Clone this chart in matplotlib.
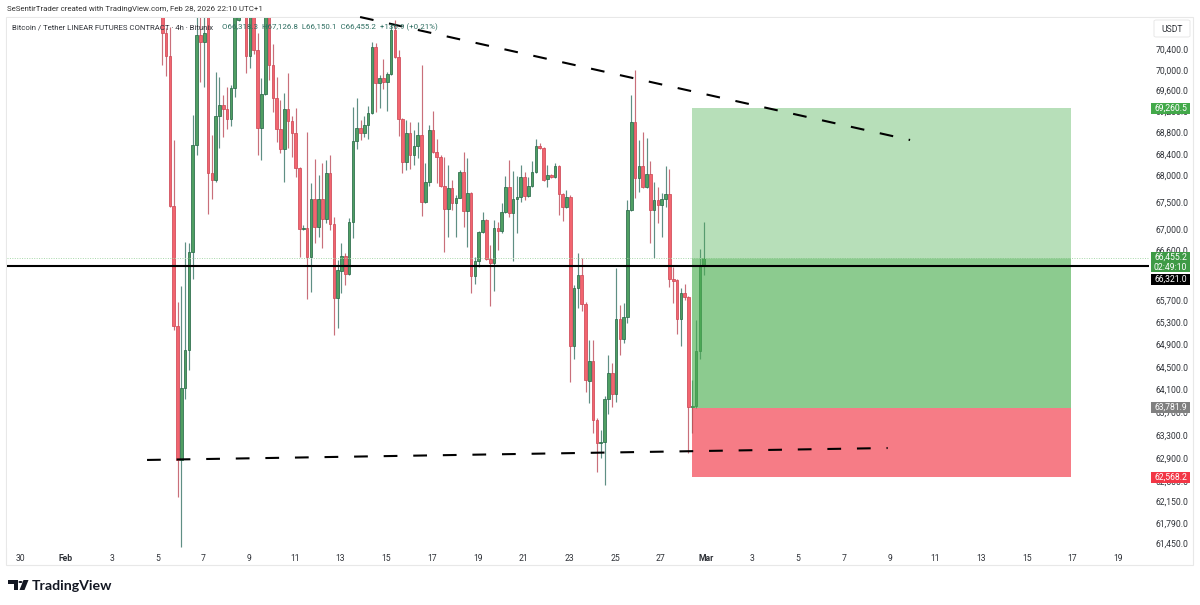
import matplotlib
matplotlib.use("Agg")
import matplotlib.pyplot as plt
import matplotlib.dates as mdates
import pandas as pd
from matplotlib.patches import Rectangle, Polygon, Circle, FancyBboxPatch
from matplotlib.ticker import FixedLocator, FixedFormatter, NullLocator

plt.rcParams["font.family"] = ["Roboto", "DejaVu Sans"]

# BTCUSDT perpetual, 4h bars, session offset UTC+1
opens = [71200, 70712, 70265, 67422, 65231, 62868, 64127, 64800, 66574, 68564,
         70673, 70537, 71100, 68039, 67908, 69115, 69324, 69248, 69058, 69648,
         70966, 71500, 71250, 70265, 71200, 70381, 68887, 69532, 71150, 70091,
         69455, 68868, 68488, 69248, 69020, 68792, 68132, 66997, 67015, 66483,
         67552, 67034, 67552, 67182, 68039, 67090, 65736, 66228, 66501, 66174,
         67126, 68640, 68887, 68792, 68944, 69172, 70439, 69744, 69840, 69763,
         69918, 70771, 70246, 69058, 68245, 68792, 68375, 68545, 68754, 67496,
         67871, 68849, 68432, 68338, 67796, 67366, 67758, 67478, 67571, 68058,
         67330, 67664, 66137, 66410, 66941, 67163, 66446, 66373, 67015, 66960,
         67311, 67777, 67293, 67552, 67589, 67964, 67608, 67796, 68058, 68545,
         68507, 67927, 68002, 67964, 68170, 67646, 67404, 67589, 64871, 65918,
         66155, 65627, 64251, 64605, 63566, 63163, 63181, 63934, 64393, 64021,
         65357, 64997, 65393, 67348, 69001, 67945, 68170, 67777, 68020, 67348,
         67533, 67440, 67552, 67646, 66082, 66064, 65357, 65827, 65755, 63794,
         63810, 64782, 66318.3]
highs = [71300, 70800, 70830, 68659, 65663, 65955, 66757, 66740, 69134, 71100,
         71150, 71200, 71300, 68754, 69956, 69860, 69513, 69667, 69705, 71300,
         71500, 71600, 71400, 71300, 71300, 70712, 69840, 71300, 71300, 70498,
         69860, 69419, 69551, 69937, 69115, 69267, 68151, 67071, 68811, 67852,
         68300, 68002, 68226, 68282, 68375, 67219, 66428, 66740, 66555, 67200,
         69286, 69455, 69039, 69115, 69305, 70537, 70517, 69898, 70207, 69956,
         70908, 70966, 70381, 69077, 69039, 69001, 68849, 69001, 70091, 68226,
         68944, 69210, 68678, 68375, 68338, 68189, 67908, 67627, 68095, 68432,
         68319, 67683, 66483, 66960, 67311, 67182, 66700, 67163, 67126, 67478,
         67983, 68282, 68076, 67983, 68189, 68058, 67964, 68263, 68678, 68602,
         68526, 68189, 68020, 68226, 68189, 67664, 67721, 67627, 65973, 66555,
         66465, 65663, 64979, 64979, 63600, 63391, 63987, 64711, 64570, 66282,
         65609, 65645, 67533, 69513, 69995, 68659, 68811, 68697, 68263, 67871,
         67777, 67664, 68170, 68114, 66301, 66082, 65918, 65991, 65773, 64269,
         65339, 66628, 67126.8]
lows = [70091, 69880, 67404, 65159, 62232, 61381, 63934, 64446, 66082, 68375,
        69763, 69667, 67274, 67552, 67871, 68507, 68716, 68868, 68925, 69474,
        70950, 71100, 69937, 70033, 70300, 68375, 68282, 69513, 69802, 69191,
        68621, 68413, 67871, 68507, 68338, 67964, 66483, 66978, 65718, 65846,
        66740, 66850, 66647, 67108, 66978, 65069, 65195, 65827, 65973, 66155,
        66830, 68488, 68659, 68716, 68678, 69153, 69191, 69267, 69628, 69210,
        69898, 70227, 68735, 68039, 68095, 68114, 68189, 68319, 67237, 67478,
        67796, 68413, 67852, 67777, 66574, 66850, 67348, 66850, 67571, 67034,
        66665, 65827, 65991, 66301, 66923, 66428, 65591, 65864, 66610, 66923,
        67300, 67219, 66410, 66923, 67496, 67533, 67589, 67777, 68039, 68488,
        67890, 67777, 67945, 67945, 67256, 67145, 67385, 64234, 64641, 65555,
        65501, 64057, 63864, 63339, 62662, 62902, 62438, 63671, 63794, 63881,
        64711, 64925, 65285, 67330, 67571, 67683, 67758, 67758, 66740, 66465,
        67108, 66850, 67404, 65937, 65645, 65087, 64871, 65699, 62988, 63339,
        63777, 64641, 66150.1]
closes = [70712, 70265, 67422, 65231, 62868, 64127, 64800, 66574, 68564, 70673,
          70537, 70712, 68039, 67908, 69115, 69324, 69248, 69058, 69648, 71100,
          71300, 71250, 70265, 71200, 70381, 68887, 69532, 71150, 70091, 69455,
          68868, 68488, 69248, 69020, 68792, 68132, 66997, 67015, 66483, 67552,
          67034, 67552, 67182, 68039, 67090, 65736, 66246, 66501, 66174, 67126,
          68640, 68887, 68792, 68944, 69172, 70439, 69744, 69840, 69763, 69918,
          70771, 70246, 69058, 68245, 68792, 68375, 68545, 68754, 67496, 67871,
          68849, 68432, 68338, 67796, 67366, 67758, 67478, 67571, 68058, 67330,
          67664, 66137, 66410, 66941, 67163, 66446, 66373, 67015, 66960, 67311,
          67777, 67293, 67552, 67589, 67964, 67608, 67796, 68058, 68545, 68507,
          67908, 68002, 67964, 68170, 67646, 67404, 67589, 64871, 65918, 66155,
          65627, 64269, 64605, 63566, 63163, 63181, 63934, 64393, 64021, 65357,
          64997, 65393, 67348, 69001, 67945, 68170, 67777, 68020, 67348, 67533,
          67440, 67552, 67646, 66082, 66046, 65357, 65827, 65755, 63794, 63810,
          64782, 66319, 66455.2]

bar_start = "2026-02-05 05:00"

price_ticks = [70400, 70000, 69600, 69200, 68800, 68400, 68000, 67500, 67000, 66600,
               65700, 65300, 64900, 64500, 64100, 63700, 63300, 62900, 62500,
               62150, 61790, 61450]
date_ticks = ["2026-01-30", "2026-02-01", "2026-02-03", "2026-02-05", "2026-02-07",
              "2026-02-09", "2026-02-11", "2026-02-13", "2026-02-15", "2026-02-17",
              "2026-02-19", "2026-02-21", "2026-02-23", "2026-02-25", "2026-02-27",
              "2026-03-01", "2026-03-03", "2026-03-05", "2026-03-07", "2026-03-09",
              "2026-03-11", "2026-03-13", "2026-03-15", "2026-03-17", "2026-03-19"]
date_labels = ["30", "Feb", "3", "5", "7", "9", "11", "13", "15", "17", "19", "21", "23",
               "25", "27", "Mar", "3", "5", "7", "9", "11", "13", "15", "17", "19"]

target_price = 69260.5
last_price = 66455.2
level_price = 66321.0
entry_price = 63781.9
stop_price = 62568.2
box_start = "2026-02-28 09:00"
box_end = "2026-03-16 22:00"

upper_trend_dates = ["2026-02-13 20:30", "2026-03-09 21:30"]
upper_trend_prices = [71024, 68659]
lower_trend_dates = ["2026-02-04 13:00", "2026-03-08 22:00"]
lower_trend_prices = [62868, 63075]

W, H = 1200, 605
LABEL_SIZE = 6.2
fig = plt.figure(figsize=(W / 100, H / 100), dpi=100, facecolor="white")
ax = fig.add_axes([7 / W, 1 - 548 / H, (1149 - 7) / W, (548 - 18) / H])

x = mdates.date2num(pd.date_range(bar_start, periods=len(opens), freq="4h"))
feb1 = mdates.date2num(pd.Timestamp("2026-02-01"))
ax.set_xlim(feb1 - 2.58, feb1 + 47.34)
ax.set_yscale("log")
ax.set_ylim(61362, 71005)

# candles
UP_FILL, UP_EDGE, UP_WICK = "#4f9f63", "#2a6b4a", "#5f8f84"
DN_FILL, DN_EDGE, DN_WICK = "#f2656f", "#cf4a58", "#c96f7a"
for xi, o, h, l, c in zip(x, opens, highs, lows, closes):
    up = c >= o
    ax.vlines(xi, l, h, colors=UP_WICK if up else DN_WICK, linewidth=0.85, zorder=2)
    ax.bar(xi, abs(c - o), bottom=min(o, c), width=0.115,
           color=UP_FILL if up else DN_FILL, edgecolor=UP_EDGE if up else DN_EDGE,
           linewidth=0.55, zorder=3)

# long position tool
bx0, bx1 = mdates.date2num(pd.Timestamp(box_start)), mdates.date2num(pd.Timestamp(box_end))
ax.add_patch(Rectangle((bx0, entry_price), bx1 - bx0, target_price - entry_price,
                       facecolor="#4caf50", alpha=0.4, edgecolor="none", zorder=4))
ax.add_patch(Rectangle((bx0, entry_price), bx1 - bx0, last_price - entry_price,
                       facecolor="#4caf50", alpha=0.4, edgecolor="none", zorder=4))
ax.add_patch(Rectangle((bx0, stop_price), bx1 - bx0, entry_price - stop_price,
                       facecolor="#f23645", alpha=0.65, edgecolor="none", zorder=4))

# levels and trendlines
ax.axhline(last_price, color="#a8d8aa", linewidth=0.7, linestyle=(0, (1, 1.5)), zorder=5)
ax.axhline(level_price, color="black", linewidth=1.5, zorder=6)
for dates, prices in ((upper_trend_dates, upper_trend_prices), (lower_trend_dates, lower_trend_prices)):
    ax.plot(mdates.date2num(pd.to_datetime(dates)), prices, color="black", linewidth=1.5,
            linestyle=(0, (6.6, 7.6)), zorder=7, clip_on=False)

# axes
for s in ax.spines.values():
    s.set_visible(False)
ax.yaxis.tick_right()
ax.yaxis.set_major_locator(FixedLocator(price_ticks))
ax.yaxis.set_major_formatter(FixedFormatter([f"{p:,.1f}" for p in price_ticks]))
ax.yaxis.set_minor_locator(NullLocator())
ax.tick_params(axis="y", which="major", length=0, pad=5, labelsize=LABEL_SIZE, labelcolor="#2f3238")
ax.set_xticks(mdates.date2num(pd.to_datetime(date_ticks)))
ax.set_xticklabels(date_labels)
ax.xaxis.set_minor_locator(NullLocator())
ax.tick_params(axis="x", which="major", length=0, pad=4, labelsize=LABEL_SIZE, labelcolor="#2f3238")
for t, s in zip(ax.get_xticklabels(), date_labels):
    if s in ("Feb", "Mar"):
        t.set_fontweight("bold")


def fx(v):
    return v / W


def fy(v):
    return 1 - v / H


def badge(price, text, color, height=11, shift=0):
    # price tag on the right-hand scale, centred on its price unless shifted clear of a neighbour
    cy = H - ax.transData.transform((0, price))[1] + shift
    fig.add_artist(Rectangle((fx(1151), fy(cy + height / 2)), 39 / W, height / H,
                             facecolor=color, edgecolor="none", zorder=20))
    fig.text(fx(1170.5), fy(cy), text, fontsize=LABEL_SIZE, color="white", ha="center",
             va="center", linespacing=1.25, zorder=21)


badge(target_price, "69,260.5", "#43a94a")
badge(last_price, "66,455.2\n02:49:10", "#3e9a45", height=20, shift=4)
badge(level_price, "66,321.0", "black", shift=13.5)
badge(entry_price, "63,781.9", "#808080")
badge(stop_price, "62,568.2", "#f23645")

# page furniture, placed in pixels
fig.add_artist(Rectangle((fx(6), fy(565)), fx(1193 - 6), (565 - 17) / H, fill=False,
                         edgecolor="#e8e8e8", linewidth=0.8, zorder=0))
fig.add_artist(FancyBboxPatch((fx(1154), fy(37)), 36 / W, 17 / H,
                              boxstyle="round,pad=0,rounding_size=0.002", facecolor="white",
                              edgecolor="#e8e8e8", linewidth=0.7))
fig.text(fx(1172), fy(29), "USDT", fontsize=LABEL_SIZE, color="#2f3238", ha="center", va="center")

fig.text(fx(7), fy(9.5), "SeSentirTrader created with TradingView.com, Feb 28, 2026 22:10 UTC+1",
         fontsize=5.7, color="#333333", ha="left", va="center")
fig.text(fx(12), fy(27.5), "Bitcoin / Tether LINEAR FUTURES CONTRACT · 4h · Bitunix",
         fontsize=5.6, color="#2f3238", ha="left", va="center", zorder=30)
fig.text(fx(222), fy(27.5),
         "O66,318.3  H67,126.8  L66,150.1  C66,455.2  +136.9 (+0.21%)",
         fontsize=5.7, color="#2f6f62", ha="left", va="center", zorder=30)

# wordmark
fig.add_artist(Polygon([(fx(8), fy(580)), (fx(18), fy(580)), (fx(18), fy(590)), (fx(13.5), fy(590)),
                        (fx(13.5), fy(584)), (fx(8), fy(584))], facecolor="#131722", edgecolor="none"))
fig.add_artist(Polygon([(fx(23.5), fy(580)), (fx(28.5), fy(580)), (fx(24.5), fy(590)), (fx(19.5), fy(590))],
                       facecolor="#131722", edgecolor="none"))
fig.add_artist(Circle((fx(20.5), fy(582)), 0.0017, facecolor="#131722", edgecolor="none",
                      transform=fig.transFigure))
fig.text(fx(32), fy(585.5), "TradingView", fontsize=10.2, fontweight="bold", family="Lato",
         color="#131722", ha="left", va="center")

fig.savefig("out.png", dpi=100, facecolor="white")
